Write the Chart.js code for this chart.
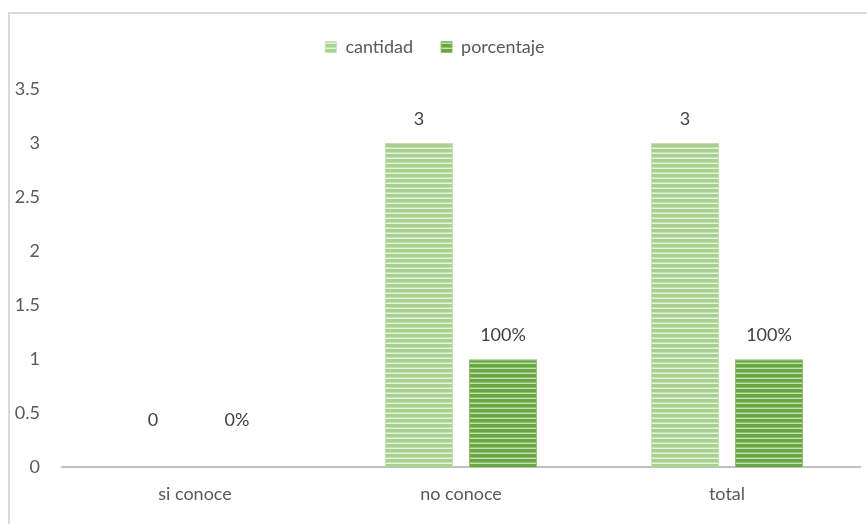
<!DOCTYPE html>
<html>
<head>
<meta charset="utf-8">
<script src="https://cdn.jsdelivr.net/npm/chart.js@4"></script>
<style>
  html, body { margin: 0; padding: 0; background: #fff; }
  #wrap { position: relative; width: 867px; height: 524px; overflow: hidden; }
  #frame { position: absolute; left: 8px; top: 12px; width: 900px; height: 600px;
           border-left: 2px solid #d9d9d9; border-top: 2px solid #d9d9d9; }
  canvas { position: absolute; left: 0; top: 0; }
</style>
</head>
<body>
<div id="wrap">
  <div id="frame"></div>
  <canvas id="chart1" width="867" height="524"></canvas>
</div>
<script>
var categories = ['si conoce', 'no conoce', 'total'];
var cantidad = [0, 3, 3];
var porcentaje = [0, 1, 1];
var porcentajeLabels = ['0%', '100%', '100%'];

function stripes(base, light, lighter) {
    var c = document.createElement('canvas');
    c.width = 8;
    c.height = 5;
    var g = c.getContext('2d');
    g.fillStyle = base;
    g.fillRect(0, 0, 8, 5);
    g.fillStyle = light;
    g.fillRect(0, 2, 8, 1);
    g.fillStyle = lighter;
    g.fillRect(0, 3, 8, 1);
    return g.createPattern(c, 'repeat');
}

var lightFill = stripes('#a9d18e', '#c5e0b4', '#e6f1de');
var darkFill = stripes('#6aa544', '#8fc06c', '#c8e0b6');

var valueLabels = {
    id: 'valueLabels',
    afterDatasetsDraw: function(chart) {
        var ctx = chart.ctx;
        ctx.save();
        ctx.font = '18px Lato';
        ctx.fillStyle = '#404040';
        ctx.textAlign = 'center';
        ctx.textBaseline = 'middle';
        chart.data.datasets.forEach(function(ds, i) {
            chart.getDatasetMeta(i).data.forEach(function(bar, j) {
                var txt = i === 0 ? String(ds.data[j]) : porcentajeLabels[j];
                var off = ds.data[j] === 0 ? 47 : 24;
                ctx.fillText(txt, bar.x, bar.y - off);
            });
        });
        ctx.restore();
    }
};

// extra room under the legend
var legendGap = {
    id: 'legendGap',
    afterInit: function(chart) {
        var fit = chart.legend.fit;
        chart.legend.fit = function() {
            fit.call(this);
            this.height += 23;
        };
    }
};

const ctx1 = document.getElementById('chart1').getContext('2d');
const chart1 = new Chart(ctx1, {
    type: 'bar',
    data: {
        labels: categories,
        datasets: [
            {
                label: 'cantidad',
                data: cantidad,
                backgroundColor: lightFill,
                borderColor: '#c5e0b4',
                borderWidth: 1
            },
            {
                label: 'porcentaje',
                data: porcentaje,
                backgroundColor: darkFill,
                borderColor: '#8fc06c',
                borderWidth: 1
            }
        ]
    },
    options: {
        responsive: false,
        animation: false,
        devicePixelRatio: 1,
        categoryPercentage: 0.632,
        barPercentage: 0.81,
        layout: {
            padding: { left: 10, right: 7, top: 10, bottom: 3 }
        },
        plugins: {
            legend: {
                position: 'top',
                labels: {
                    boxWidth: 11,
                    boxHeight: 11,
                    padding: 28,
                    color: '#595959',
                    font: { family: 'Lato', size: 18 }
                }
            },
            tooltip: { enabled: false }
        },
        scales: {
            x: {
                grid: { display: false, drawTicks: false },
                border: { display: true, color: '#bfbfbf', width: 2 },
                ticks: {
                    color: '#595959',
                    padding: 16,
                    font: { family: 'Lato', size: 18 }
                }
            },
            y: {
                min: 0,
                max: 3.5,
                afterFit: function(scale) { scale.width = 52; },
                grid: { display: false, drawTicks: false },
                border: { display: false },
                ticks: {
                    stepSize: 0.5,
                    color: '#595959',
                    padding: 22,
                    font: { family: 'Lato', size: 18 },
                    callback: function(value) { return String(value); }
                }
            }
        }
    },
    plugins: [valueLabels, legendGap]
});
</script>
</body>
</html>
